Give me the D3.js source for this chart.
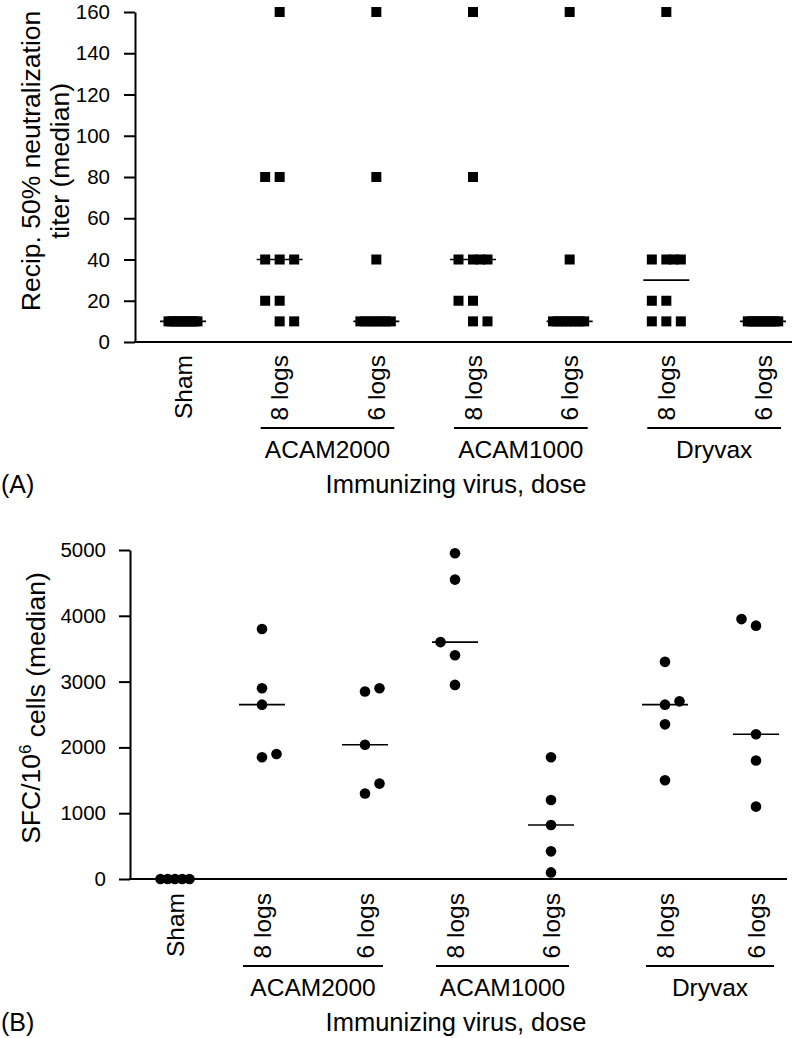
<!DOCTYPE html>
<html>
<head>
<meta charset="utf-8">
<script src="https://cdn.jsdelivr.net/npm/d3@7"></script>
<style>
  html, body { margin: 0; padding: 0; background: #fff; }
  svg { display: block; }
</style>
</head>
<body>
<div id="chart"></div>
<script>
// ---------------- DATA ----------------
const groupIds = ["sham", "a2k8", "a2k6", "a1k8", "a1k6", "dry8", "dry6"];
const tickLabels = ["Sham", "8 logs", "6 logs", "8 logs", "6 logs", "8 logs", "6 logs"];
const virusNames = ["ACAM2000", "ACAM1000", "Dryvax"];
const virusMembers = [["a2k8", "a2k6"], ["a1k8", "a1k6"], ["dry8", "dry6"]];
const xTitle = "Immunizing virus, dose";

// Panel A: reciprocal 50% neutralization titer (10 animals per group)
const titerTicks = [0, 20, 40, 60, 80, 100, 120, 140, 160];
const titerSham = [10, 10, 10, 10, 10, 10, 10, 10, 10, 10];
const titerA2k8 = [160, 80, 80, 40, 40, 40, 20, 20, 10, 10];
const titerA2k6 = [160, 80, 40, 10, 10, 10, 10, 10, 10, 10];
const titerA1k8 = [160, 80, 40, 40, 40, 40, 20, 20, 10, 10];
const titerA1k6 = [160, 40, 10, 10, 10, 10, 10, 10, 10, 10];
const titerDry8 = [160, 40, 40, 40, 40, 20, 20, 10, 10, 10];
const titerDry6 = [10, 10, 10, 10, 10, 10, 10, 10, 10, 10];
// dodge column (in units of one marker slot) for tied values
const titerColSham = [-1, -0.78, -0.56, -0.33, -0.11, 0.11, 0.33, 0.56, 0.78, 1];
const titerColA2k8 = [0, -1, 0, -1, 0, 1, -1, 0, 0, 1];
const titerColA2k6 = [0, 0, 0, -1.1, -0.75, -0.4, -0.05, 0.3, 0.65, 1];
const titerColA1k8 = [0, 0, -1, 0, 0.5, 1, -1, 0, 0, 1];
const titerColA1k6 = [0, 0, -1.15, -0.84, -0.53, -0.22, 0.08, 0.39, 0.7, 1];
const titerColDry8 = [0, -1, 0, 0.5, 1, -1, 0, -1, 0, 1];
const titerColDry6 = [-1.05, -0.82, -0.58, -0.35, -0.12, 0.12, 0.35, 0.58, 0.82, 1.05];

// Panel B: SFC per 10^6 cells (5 animals per group)
const sfcTicks = [0, 1000, 2000, 3000, 4000, 5000];
const sfcSham = [0, 0, 0, 0, 0];
const sfcA2k8 = [3800, 2900, 2650, 1850, 1900];
const sfcA2k6 = [2850, 2900, 2040, 1300, 1450];
const sfcA1k8 = [4950, 4550, 3600, 3400, 2950];
const sfcA1k6 = [1850, 1200, 820, 420, 100];
const sfcDry8 = [3300, 2650, 2700, 2350, 1500];
const sfcDry6 = [3950, 3850, 2200, 1800, 1100];
const sfcColSham = [-1, -0.5, 0, 0.5, 1];
const sfcColA2k8 = [0, 0, 0, 0, 1];
const sfcColA2k6 = [0, 1, 0, 0, 1];
const sfcColA1k8 = [0, 0, -1, 0, 0];
const sfcColA1k6 = [0, 0, 0, 0, 0];
const sfcColDry8 = [0, 0, 1, 0, 0];
const sfcColDry6 = [-1, 0, 0, 0, 0];

const titerGroups = [
  [titerSham, titerColSham], [titerA2k8, titerColA2k8], [titerA2k6, titerColA2k6],
  [titerA1k8, titerColA1k8], [titerA1k6, titerColA1k6], [titerDry8, titerColDry8],
  [titerDry6, titerColDry6]
];
const sfcGroups = [
  [sfcSham, sfcColSham], [sfcA2k8, sfcColA2k8], [sfcA2k6, sfcColA2k6],
  [sfcA1k8, sfcColA1k8], [sfcA1k6, sfcColA1k6], [sfcDry8, sfcColDry8],
  [sfcDry6, sfcColDry6]
];

// ---------------- CHART ----------------
const W = 792, H = 1038;
const FONT = "'Liberation Sans', Arial, Helvetica, sans-serif";
const svg = d3.select("#chart").append("svg")
  .attr("width", W).attr("height", H)
  .attr("font-family", FONT);
svg.append("rect").attr("width", W).attr("height", H).attr("fill", "#fff");

const dodge = d3.scaleLinear().domain([-1, 1]).range([-14.5, 14.5]);

function drawPanel(cfg) {
  const g = svg.append("g");
  const x = cfg.x;
  const y = d3.scaleLinear().domain(cfg.yDomain).range(cfg.yRange);

  // y axis
  const yAxis = d3.axisLeft(y).tickValues(cfg.ticks).tickFormat(d3.format("d"))
    .tickSize(11).tickSizeOuter(0).tickPadding(cfg.tickPad);
  const ya = g.append("g").attr("transform", `translate(${cfg.axisX},0)`).call(yAxis);
  ya.select(".domain").attr("stroke", "#000").attr("stroke-width", 2);
  ya.selectAll(".tick line").attr("stroke", "#000").attr("stroke-width", 2);
  ya.selectAll(".tick text").attr("font-size", 20.5).attr("font-family", FONT).attr("fill", "#000");

  // x axis line
  g.append("line")
    .attr("x1", cfg.axisX - 1).attr("x2", cfg.xEnd)
    .attr("y1", y(0)).attr("y2", y(0))
    .attr("stroke", "#000").attr("stroke-width", 2);

  // points
  const pts = [];
  cfg.groups.forEach((gr, i) => {
    gr[0].forEach((v, j) => pts.push({ id: groupIds[i], v: v, c: gr[1][j] }));
  });
  if (cfg.marker === "square") {
    g.selectAll("rect.pt").data(pts).join("rect").attr("class", "pt")
      .attr("x", d => x(d.id) + dodge(d.c) - 5)
      .attr("y", d => y(d.v) - 5)
      .attr("width", 10).attr("height", 10).attr("fill", "#000");
  } else {
    g.selectAll("circle.pt").data(pts).join("circle").attr("class", "pt")
      .attr("cx", d => x(d.id) + dodge(d.c))
      .attr("cy", d => y(d.v))
      .attr("r", 5.3).attr("fill", "#000");
  }

  // median lines
  g.selectAll("line.med").data(cfg.groups.map((gr, i) => ({ id: groupIds[i], m: d3.median(gr[0]) })))
    .join("line").attr("class", "med")
    .attr("x1", d => x(d.id) - 23).attr("x2", d => x(d.id) + 23)
    .attr("y1", d => y(d.m)).attr("y2", d => y(d.m))
    .attr("stroke", "#000").attr("stroke-width", 1.6);

  // category labels (rotated)
  g.selectAll("text.cat").data(groupIds).join("text").attr("class", "cat")
    .attr("transform", d => `translate(${x(d)},${cfg.labelTop}) rotate(-90)`)
    .attr("text-anchor", "end").attr("dy", "0.36em")
    .attr("font-size", 24.5).attr("fill", "#000")
    .text((d, i) => tickLabels[i]);

  // virus group underlines + labels
  virusNames.forEach((name, k) => {
    const a = x(virusMembers[k][0]) - 19, b = x(virusMembers[k][1]) + 18;
    g.append("line").attr("x1", a).attr("x2", b)
      .attr("y1", cfg.underlineY).attr("y2", cfg.underlineY)
      .attr("stroke", "#000").attr("stroke-width", 2);
    g.append("text").attr("x", (a + b) / 2).attr("y", cfg.groupLabelY)
      .attr("text-anchor", "middle").attr("font-size", 24.5).attr("fill", "#000")
      .text(name);
  });

  // x title
  g.append("text").attr("x", 456).attr("y", cfg.titleY)
    .attr("text-anchor", "middle").attr("font-size", 25.5).attr("fill", "#000")
    .text(xTitle);
  // panel letter
  g.append("text").attr("x", 1).attr("y", cfg.titleY)
    .attr("font-size", 25).attr("fill", "#000").text(cfg.letter);

  return g;
}

// Panel A
const xA = d3.scalePoint().domain(groupIds).range([183, 763]);
const gA = drawPanel({
  x: xA, yDomain: [0, 160], yRange: [342, 12], ticks: titerTicks,
  axisX: 135, tickPad: 14, xEnd: 792, groups: titerGroups, marker: "square",
  labelTop: 355, underlineY: 428, groupLabelY: 458, titleY: 493, letter: "(A)"
});
const tA = gA.append("text").attr("font-size", 26.5).attr("text-anchor", "middle").attr("fill", "#000");
tA.append("tspan").attr("x", 0).attr("y", 0).text("Recip. 50% neutralization");
tA.append("tspan").attr("x", 0).attr("y", 28.5).text("titer (median)");
tA.attr("transform", "translate(40,161) rotate(-90)");

// Panel B
const xB = d3.scaleOrdinal().domain(groupIds).range([175, 262, 365, 455, 551, 665, 756]);
const gB = drawPanel({
  x: xB, yDomain: [0, 5000], yRange: [879, 550], ticks: sfcTicks,
  axisX: 130, tickPad: 13, xEnd: 787, groups: sfcGroups, marker: "circle",
  labelTop: 893, underlineY: 966, groupLabelY: 996, titleY: 1031, letter: "(B)"
});
const tB = gB.append("text").attr("font-size", 26.5).attr("text-anchor", "middle").attr("fill", "#000")
  .attr("transform", "translate(40,708) rotate(-90)");
tB.append("tspan").text("SFC/10");
tB.append("tspan").attr("dy", "-0.55em").attr("font-size", 17).text("6");
tB.append("tspan").attr("dy", "0.55em").text(" cells (median)");
</script>
</body>
</html>
